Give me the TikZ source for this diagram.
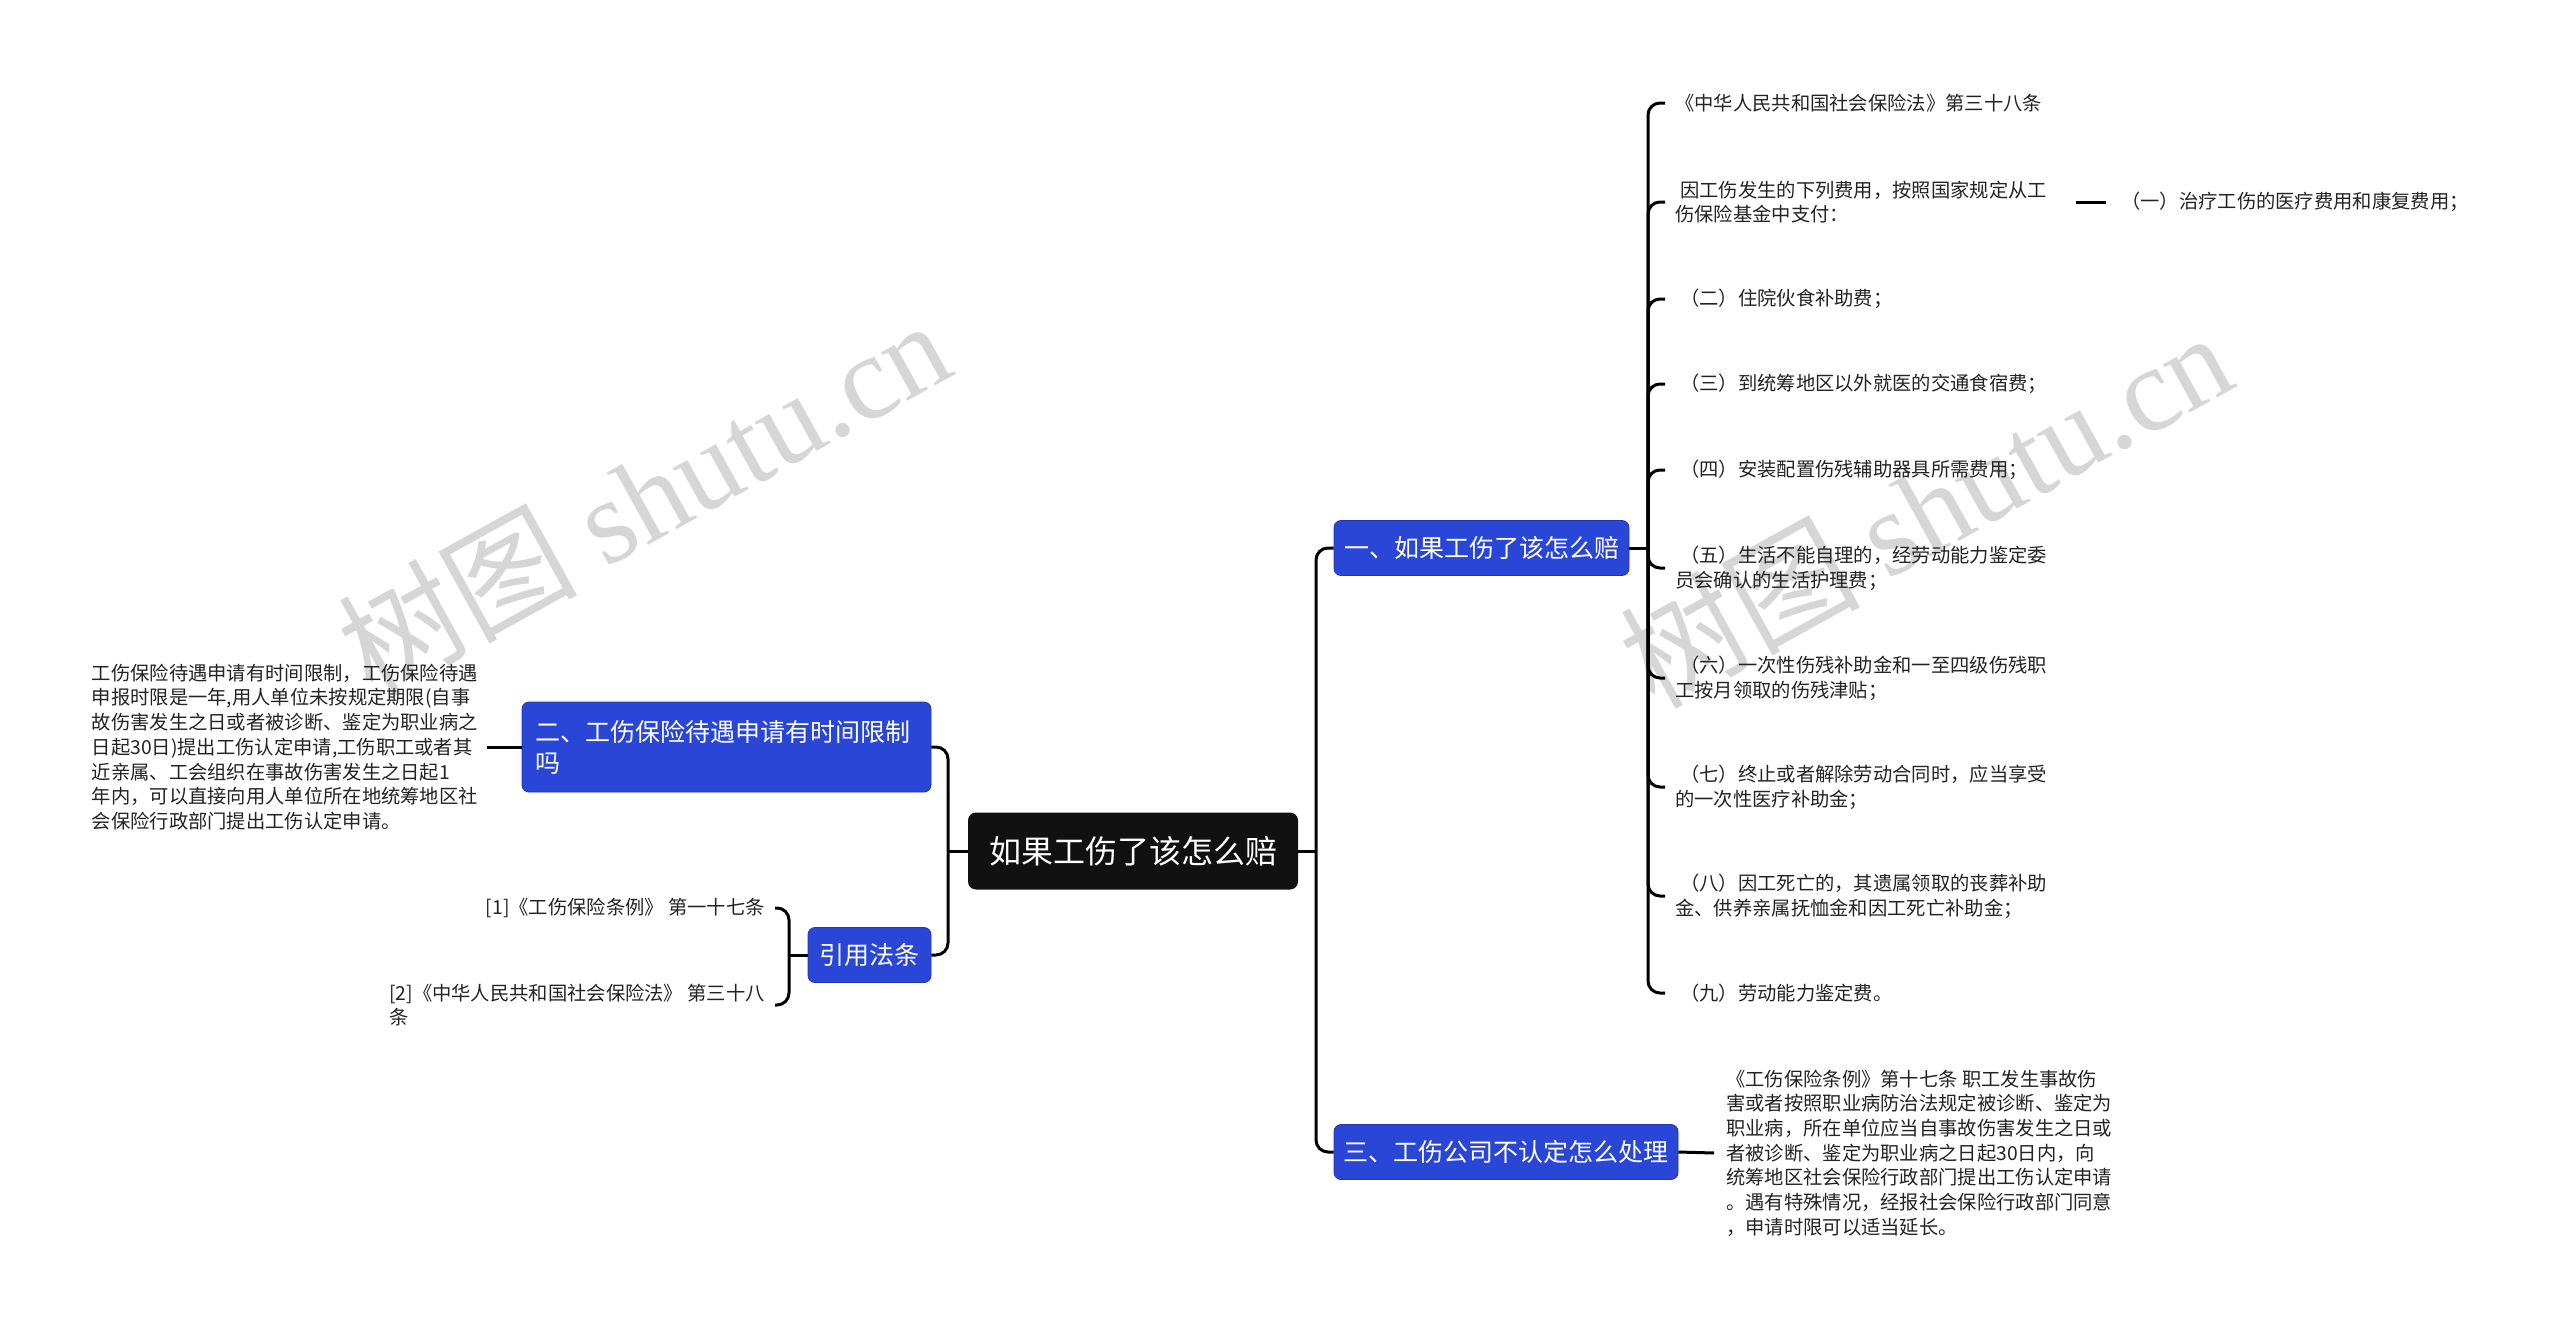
\documentclass[tikz,border=0pt]{standalone}
\usepackage{fontspec}
\setmainfont{Noto Sans CJK SC}
\newfontfamily\wmserif{Liberation Serif}
\definecolor{bblue}{RGB}{42,70,214}
\definecolor{cblack}{RGB}{17,17,17}
\definecolor{wmgray}{RGB}{214,214,214}
\definecolor{leaftext}{RGB}{35,35,35}
\begin{document}
\begin{tikzpicture}[x=1pt,y=-1pt,
  conn/.style={draw=black,line width=3pt,rounded corners=12pt},
  rootbox/.style={fill=cblack,rounded corners=8pt,text=white,font=\fontsize{32}{38}\selectfont,minimum width=330pt,minimum height=77pt,inner sep=0pt},
  branch/.style={fill=bblue,draw=bblue!80!black,line width=0.8pt,rounded corners=7pt,text=white,font=\fontsize{25}{31}\selectfont,minimum height=55pt,inner xsep=0pt,inner ysep=0pt},
  leaf/.style={font=\fontsize{19.3}{24.7}\selectfont,align=left,inner xsep=10pt,inner ysep=2pt,text=leaftext},
  wm/.style={text=wmgray,rotate=29,font=\fontsize{120}{120}\selectfont}
]
\path[use as bounding box,fill=white] (0,0) rectangle (2560,1333);

% watermarks
\node[wm] (w1) at (643,496) {树图 {\wmserif shutu.cn}};
\node[wm] (w2) at (1925,508) {树图 {\wmserif shutu.cn}};

% main nodes
\node[rootbox] (root) at (1133,851) {如果工伤了该怎么赔};
\node[branch,minimum width=295pt] (b1) at (1481.5,548) {一、如果工伤了该怎么赔};
\node[branch,minimum width=344pt] (b3) at (1506,1152) {三、工伤公司不认定怎么处理};
\node[branch,minimum width=123pt] (b4) at (869.5,955) {引用法条};
\node[branch,text width=383pt,align=left,minimum height=90pt,inner xsep=13pt] (b2) at (726.5,747) {二、工伤保险待遇申请有时间限制\\吗};

\coordinate (tl) at (948,851);
\coordinate (tr) at (1316,851);
\coordinate (rv) at (1648,548);
\coordinate (lv) at (789,955);

% right leaves
\node[leaf,anchor=west] (r1) at (1665,103) {《中华人民共和国社会保险法》第三十八条};
\node[leaf,anchor=west] (r2) at (1665,202) {\hspace*{5pt}因工伤发生的下列费用，按照国家规定从工\\伤保险基金中支付：};
\node[leaf,anchor=west] (r3) at (1665,299) {\hspace*{5pt}（二）住院伙食补助费；};
\node[leaf,anchor=west] (r4) at (1665,384) {\hspace*{5pt}（三）到统筹地区以外就医的交通食宿费；};
\node[leaf,anchor=west] (r5) at (1665,470) {\hspace*{5pt}（四）安装配置伤残辅助器具所需费用；};
\node[leaf,anchor=west] (r6) at (1665,568) {\hspace*{5pt}（五）生活不能自理的，经劳动能力鉴定委\\员会确认的生活护理费；};
\node[leaf,anchor=west] (r7) at (1665,678) {\hspace*{5pt}（六）一次性伤残补助金和一至四级伤残职\\工按月领取的伤残津贴；};
\node[leaf,anchor=west] (r8) at (1665,787) {\hspace*{5pt}（七）终止或者解除劳动合同时，应当享受\\的一次性医疗补助金；};
\node[leaf,anchor=west] (r9) at (1665,896) {\hspace*{5pt}（八）因工死亡的，其遗属领取的丧葬补助\\金、供养亲属抚恤金和因工死亡补助金；};
\node[leaf,anchor=west] (r10) at (1665,993) {\hspace*{5pt}（九）劳动能力鉴定费。};
\node[leaf,anchor=west] (s1) at (2111,202) {（一）治疗工伤的医疗费用和康复费用；};

% branch 3 leaf
\node[leaf,anchor=west,inner xsep=12pt] (d1) at (1714,1153) {《工伤保险条例》第十七条 职工发生事故伤\\害或者按照职业病防治法规定被诊断、鉴定为\\职业病，所在单位应当自事故伤害发生之日或\\者被诊断、鉴定为职业病之日起30日内，向\\统筹地区社会保险行政部门提出工伤认定申请\\。遇有特殊情况，经报社会保险行政部门同意\\，申请时限可以适当延长。};

% left leaves
\node[leaf,anchor=east,inner xsep=9pt] (l1) at (487,747) {工伤保险待遇申请有时间限制，工伤保险待遇\\申报时限是一年,用人单位未按规定期限(自事\\故伤害发生之日或者被诊断、鉴定为职业病之\\日起30日)提出工伤认定申请,工伤职工或者其\\近亲属、工会组织在事故伤害发生之日起1\\年内，可以直接向用人单位所在地统筹地区社\\会保险行政部门提出工伤认定申请。};
\node[leaf,anchor=east] (c1) at (775,908) {[1]《工伤保险条例》 第一十七条};
\node[leaf,anchor=east] (c2) at (775,1005) {[2]《中华人民共和国社会保险法》 第三十八\\条};

% connectors
\draw[conn] (root.west) -- (tl);
\draw[conn] (b2.east) -| (tl) |- (b4.east);
\draw[conn] (root.east) -- (tr);
\draw[conn] (b1.west) -| (tr) |- (b3.west);
\draw[conn] (b1.east) -- (rv);
\foreach \n in {r1,r2,r3,r4,r5,r6,r7,r8,r9,r10}{
  \draw[conn] (rv) |- (\n.west);
}
\draw[conn] ([xshift=19pt]r2.east) -- ([xshift=-5pt]s1.west);
\draw[conn] (b3.east) -- (d1.west);
\draw[conn] (l1.east) -- (b2.west);
\draw[conn] (b4.west) -- (lv);
\draw[conn] (lv) |- (c1.east);
\draw[conn] (lv) |- (c2.east);
\end{tikzpicture}
\end{document}
